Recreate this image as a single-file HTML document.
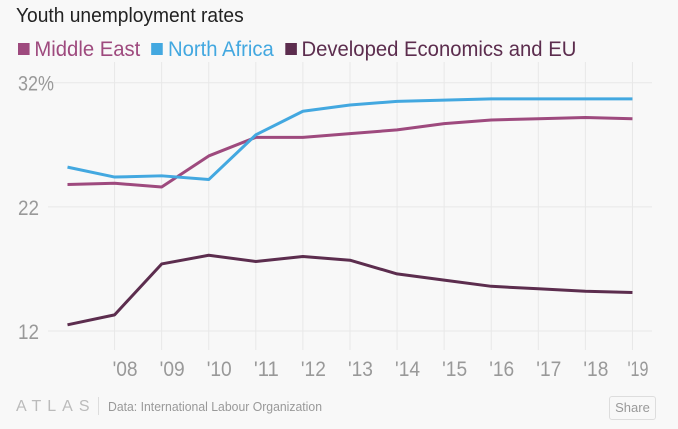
<!DOCTYPE html>
<html><head><meta charset="utf-8"><style>
body{margin:0;background:#f8f8f8;font-family:"Liberation Sans",sans-serif;}
#wrap{position:relative;width:678px;height:429px;overflow:hidden;background:#f8f8f8;}
.t{position:absolute;white-space:nowrap;}
.sq{display:inline-block;width:12px;height:12px;margin-right:5px;vertical-align:1px;}
</style></head><body>
<div id="wrap">
<div class="t" style="left:16px;top:5px;font-size:20px;color:#222;transform:scaleX(0.96);transform-origin:0 0;">Youth unemployment rates</div>
<div class="t" style="left:18px;top:38px;font-size:21px;transform:scaleX(0.965);transform-origin:0 0;">
<span style="color:#9e4a7e"><span class="sq" style="background:#9e4a7e"></span>Middle East</span>&nbsp;
<span style="color:#43a8e0"><span class="sq" style="background:#43a8e0"></span>North Africa</span>&nbsp;
<span style="color:#5c2d4e"><span class="sq" style="background:#5c2d4e"></span>Developed Economics and EU</span>
</div>
<svg id="chart" width="678" height="429" style="position:absolute;left:0;top:0"></svg>
<div class="t" style="left:16px;top:398px;font-size:16px;color:#bbb;letter-spacing:6px;">ATLAS</div>
<div class="t" style="left:98px;top:397px;width:1px;height:18px;background:#ddd;"></div>
<div class="t" style="left:108px;top:399px;font-size:13px;color:#999;transform:scaleX(0.94);transform-origin:0 0;">Data: International Labour Organization</div>
<div class="t" style="left:609px;top:396px;width:45px;height:22px;border:1px solid #ddd;border-radius:3px;font-size:13px;color:#999;text-align:center;line-height:22px;">Share</div>
</div>
<script>
const years=[2007,2008,2009,2010,2011,2012,2013,2014,2015,2016,2017,2018,2019];
const xLabels=["","'08","'09","'10","'11","'12","'13","'14","'15","'16","'17","'18","'19"];
const yTicks=[12,22,32];
const yTickLabels=["12","22","32%"];
const middleEast=[23.8,23.9,23.6,26.1,27.6,27.6,27.9,28.2,28.7,29.0,29.1,29.2,29.1];
const northAfrica=[25.2,24.4,24.5,24.2,27.8,29.7,30.2,30.5,30.6,30.7,30.7,30.7,30.7];
const developed=[12.5,13.3,17.4,18.1,17.6,18.0,17.7,16.6,16.1,15.6,15.4,15.2,15.1];
const svg=document.getElementById('chart');
const NS='http://www.w3.org/2000/svg';
function x(yr){return 67.5+(yr-2007)*47.08;}
function y(v){return 331-(v-12)*12.415;}
function mk(tag,attrs){const e=document.createElementNS(NS,tag);for(const k in attrs)e.setAttribute(k,attrs[k]);svg.appendChild(e);return e;}
years.forEach((yr,i)=>{
  if(i===0)return;
  const g=mk('line',{x1:x(yr),x2:x(yr),y1:62,y2:350,stroke:'#e8e8e8','stroke-width':1});
  
  
  const t=mk('text',{x:i===12?x(yr)-5:x(yr)-2,y:376,'font-size':21,fill:'#999',textLength:i===12?21:25,lengthAdjust:'spacingAndGlyphs'});
  t.textContent=xLabels[i];
  
  
});
yTicks.forEach((v,i)=>{
  const g=mk('line',{x1:48,x2:652,y1:y(v),y2:y(v),stroke:'#e8e8e8','stroke-width':1});
  
  
  const t=mk('text',{x:18,y:y(v)+8,'font-size':21,fill:'#999',textLength:yTickLabels[i].length>2?36:21,lengthAdjust:'spacingAndGlyphs'});
  t.textContent=yTickLabels[i];
  
  
});
function line(vals,color,name){
  const p=mk('polyline',{points:vals.map((v,i)=>x(years[i])+','+y(v)).join(' '),fill:'none',stroke:color,'stroke-width':3,'stroke-linejoin':'round'});
  
  
}
line(middleEast,'#9e4a7e','middle-east-line');
line(northAfrica,'#43a8e0','north-africa-line');
line(developed,'#5c2d4e','developed-line');
</script>
</body></html>
